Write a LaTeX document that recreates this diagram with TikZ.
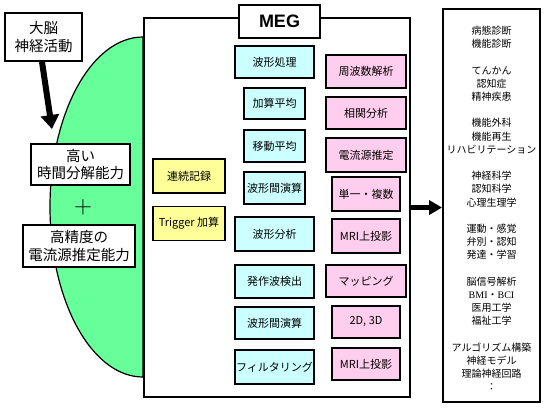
\documentclass[tikz,border=0pt]{standalone}
\usepackage{fontspec}
\setmainfont{Noto Sans CJK JP}
\newfontfamily\megfont{Liberation Sans}
\newfontfamily\romfont{Liberation Serif}
\usepackage{tikz}
\usetikzlibrary{arrows.meta, positioning}
\definecolor{brainclr}{RGB}{102,255,153}
\definecolor{waveclr}{RGB}{204,255,255}
\definecolor{anaclr}{RGB}{255,206,238}
\definecolor{recclr}{RGB}{255,255,153}
\tikzset{
  box/.style={draw, line width=1.8pt, inner sep=0pt, align=center},
  wave/.style={box, fill=waveclr, font=\fontsize{11}{13}\selectfont},
  ana/.style={box, fill=anaclr, font=\fontsize{11}{13}\selectfont},
  rec/.style={box, fill=recclr, font=\fontsize{11}{13}\selectfont,
              minimum width=72pt, minimum height=34pt},
  ability/.style={box, fill=white, font=\fontsize{14.5}{17.5}\selectfont},
  bigarrow/.style={line width=6pt, -{Triangle[length=14pt, width=18pt]}},
}

\begin{document}
\begin{tikzpicture}[x=1pt, y=-1pt]
  % fix the page to the size of the picture
  \useasboundingbox (0,0) rectangle (548,413);

  % green half ellipse behind the MEG frame
  \draw[fill=brainclr, line width=1.2pt] (143,37)
    arc[start angle=90, end angle=270, x radius=93pt, y radius=170pt] -- cycle;

  % the MEG frame and its title
  \node[draw, line width=2pt, fill=white, anchor=north west,
        minimum width=266pt, minimum height=379pt] (meg) at (143,17) {};
  \node[box, fill=white, font=\megfont\bfseries\fontsize{18}{20}\selectfont,
        minimum width=81pt, minimum height=33pt] (title) at (279.5,21.5) {MEG};

  % waveform processing boxes (cyan column)
  \foreach \i/\y/\w/\h/\txt in {1/62/79/32/波形処理, 2/103.5/61/31/加算平均,
      3/146/61/32/移動平均, 4/188/61/32/波形間演算, 5/234/79/34/波形分析,
      6/281.5/79/33/発作波検出, 7/323/79/32/波形間演算, 8/367/79/34/フィルタリング}{
    \node[wave, minimum width=\w pt, minimum height=\h pt] (wave\i) at (274.5,\y) {\txt};
  }

  % analysis boxes (pink column)
  \foreach \i/\y/\w/\h/\txt in {1/71.5/80/33/周波数解析, 2/113/80/32/相関分析,
      3/155/80/34/電流源推定, 4/194/68/34/単一・複数, 5/236/68/34/MRI上投影,
      6/281/80/32/マッピング, 7/322/68/32/{2D, 3D}, 8/364/68/32/MRI上投影}{
    \node[ana, minimum width=\w pt, minimum height=\h pt] (ana\i) at (366,\y) {\txt};
  }

  % recording modes
  \node[rec] (cont) at (189,176) {連続記録};
  \node[rec] (trig) at (189,223.5) {Trigger 加算};

  % left side: brain activity and the two abilities
  \node[ability, minimum width=77pt, minimum height=48pt] (brain) at (43.5,37) {大脳\\神経活動};
  \node[ability, minimum width=99pt, minimum height=41pt] (speed) at (80.5,164.5) {高い\\時間分解能力};
  \node[font=\fontsize{26}{26}\selectfont] (plus) at (83,207) {$+$};
  \node[ability, minimum width=112pt, minimum height=42pt] (source) at (79,246) {高精度の\\電流源推定能力};

  \coordinate (hit) at (52,129);
  \draw[bigarrow] ([xshift=-1.5pt]brain.south) -- (hit);

  % applications on the right
  \node[box, fill=white, minimum width=97pt, minimum height=393pt] (apps) at (491.5,205.5) {};
  \node[align=center, inner sep=0pt, font=\fontsize{10}{13.25}\selectfont] (appslist)
      at ([yshift=-3pt]apps.center) {%
    病態診断\\
    機能診断\\[13pt]
    てんかん\\
    認知症\\
    精神疾患\\[13pt]
    機能外科\\
    機能再生\\
    リハビリテーション\\[13pt]
    神経科学\\
    認知科学\\
    心理生理学\\[13pt]
    運動・感覚\\
    弁別・認知\\
    発達・学習\\[13pt]
    脳信号解析\\
    {\romfont BMI}・{\romfont BCI}\\
    医用工学\\
    福祉工学\\[13pt]
    アルゴリズム構築\\
    神経モデル\\
    理論神経回路\\
    ：};

  \draw[line width=4.5pt, -{Triangle[length=13pt, width=14pt]}] (meg.east) -- (meg.east -| apps.west);
\end{tikzpicture}
\end{document}
